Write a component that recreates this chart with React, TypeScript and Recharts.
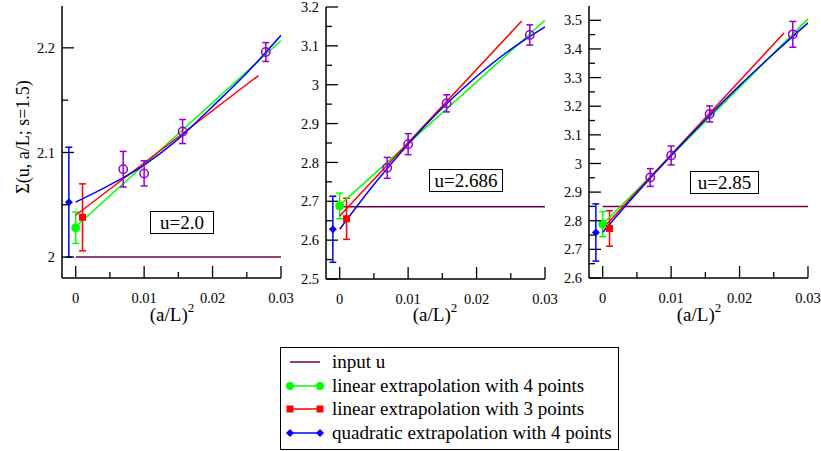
import React from 'react';
import { ComposedChart, Line, Scatter, XAxis, YAxis, ErrorBar } from 'recharts';

const FONT = 'Liberation Serif, Times New Roman, serif';

// ---------- shared data ----------
const latticeX = [0.006944, 0.01, 0.015625, 0.027778]; // (a/L)^2 for L/a = 12, 10, 8, 6
const extrapX = [-0.001, 0, 0.001]; // quadratic, linear-4, linear-3 (offset for visibility)
const inputLineX = [0, 0.03];
const quadCurveX = [0, 0.005, 0.01, 0.015, 0.02, 0.025, 0.03];
const lin4LineX = [0, 0.03];
const xDomain = [-0.002, 0.03];
const xMajorTicks = [0, 0.01, 0.02, 0.03];
const xMinorTicks = [0.005, 0.015, 0.025];

const legendLabels = [
  'input u',
  'linear extrapolation with 4 points',
  'linear extrapolation with 3 points',
  'quadratic extrapolation with 4 points',
];
const yAxisTitle = 'Σ(u, a/L; s=1.5)';

// ---------- panel 1: u = 2.0 ----------
const p1Label = 'u=2.0';
const p1Input = 2.0;
const p1Sigma = [2.084, 2.08, 2.12, 2.196];
const p1SigmaErr = [0.017, 0.012, 0.0115, 0.009];
const p1Extrap = [2.0525, 2.028, 2.038];
const p1ExtrapErr = [0.0525, 0.015, 0.032];
const p1Lin4Y = [2.029, 2.207];
const p1Lin3X = [0, 0.0267];
const p1Lin3Y = [2.04, 2.1735];
const p1QuadY = [2.0525, 2.069, 2.088, 2.113, 2.144, 2.176, 2.212];
const p1YDomain = [1.98, 2.24];
const p1YMajor = [2.0, 2.1, 2.2];
const p1YMinor = [2.05, 2.15];

// ---------- panel 2: u = 2.686 ----------
const p2Label = 'u=2.686';
const p2Input = 2.686;
const p2Sigma = [2.786, 2.847, 2.952, 3.128];
const p2SigmaErr = [0.027, 0.027, 0.022, 0.026];
const p2Extrap = [2.628, 2.688, 2.655];
const p2ExtrapErr = [0.085, 0.033, 0.053];
const p2Lin4Y = [2.69, 3.166];
const p2Lin3X = [0, 0.0266];
const p2Lin3Y = [2.662, 3.164];
const p2QuadY = [2.628, 2.743, 2.847, 2.94, 3.021, 3.091, 3.149];
const p2YDomain = [2.5, 3.2];
const p2YMajor = [2.5, 2.6, 2.7, 2.8, 2.9, 3.0, 3.1, 3.2];
const p2YMinor = [2.55, 2.65, 2.75, 2.85, 2.95, 3.05, 3.15];

// ---------- panel 3: u = 2.85 ----------
const p3Label = 'u=2.85';
const p3Input = 2.85;
const p3Sigma = [2.951, 3.028, 3.173, 3.451];
const p3SigmaErr = [0.031, 0.033, 0.028, 0.045];
const p3Extrap = [2.759, 2.788, 2.773];
const p3ExtrapErr = [0.1, 0.044, 0.062];
const p3Lin4Y = [2.788, 3.505];
const p3Lin3X = [0, 0.0265];
const p3Lin3Y = [2.773, 3.456];
const p3QuadY = [2.76, 2.897, 3.028, 3.153, 3.272, 3.384, 3.491];
const p3YDomain = [2.6, 3.55];
const p3YMajor = [2.6, 2.7, 2.8, 2.9, 3.0, 3.1, 3.2, 3.3, 3.4, 3.5];
const p3YMinor = [2.65, 2.75, 2.85, 2.95, 3.05, 3.15, 3.25, 3.35, 3.45];

// ---------- colours ----------
const C_INPUT = '#670748';
const C_PTS = '#9400d3';
const C_LIN4 = '#00ff00';
const C_LIN3 = '#ff0000';
const C_QUAD = '#0000ff';

const zip = (xs: number[], ys: number[], es?: number[]) =>
  xs.map((x, i) => ({ x, y: ys[i], e: es ? es[i] : 0 }));

const MAJOR_LEN = 12;
const MINOR_LEN = 6;
const TICK_FS = 14.5;
const isIn = (arr: number[], v: number) => arr.some((m) => Math.abs(m - v) < 1e-9);

const fmtX = (v: number) => String(parseFloat(v.toFixed(3)));
const fmtY = (v: number) => String(parseFloat(v.toFixed(2)));

const txtStyle = { fontFamily: FONT };

function makeXTick(side: 'bottom' | 'top', majors: number[]) {
  return (props: any) => {
    const { x, y, payload } = props;
    const v = payload.value;
    const major = isIn(majors, v);
    const len = major ? MAJOR_LEN : MINOR_LEN;
    const dir = side === 'bottom' ? -1 : 1;
    return (
      <g>
        <line x1={x} x2={x} y1={y} y2={y + dir * len} stroke="#000" strokeWidth={1.3} />
        {side === 'bottom' && major && (
          <text x={x} y={y + 25} textAnchor="middle" style={txtStyle} fontSize={TICK_FS} fill="#000">
            {fmtX(v)}
          </text>
        )}
      </g>
    );
  };
}

function makeYTick(side: 'left' | 'right', majors: number[]) {
  return (props: any) => {
    const { x, y, payload } = props;
    const v = payload.value;
    const major = isIn(majors, v);
    const len = major ? MAJOR_LEN : MINOR_LEN;
    const dir = side === 'left' ? 1 : -1;
    return (
      <g>
        <line x1={x} x2={x + dir * len} y1={y} y2={y} stroke="#000" strokeWidth={1.3} />
        {side === 'left' && major && (
          <text x={x - 7} y={y} dy="0.35em" textAnchor="end" style={txtStyle} fontSize={TICK_FS} fill="#000">
            {fmtY(v)}
          </text>
        )}
      </g>
    );
  };
}

const OpenCircle = (p: any) =>
  p.cx == null ? <g /> : <circle cx={p.cx} cy={p.cy} r={4.2} fill="none" stroke={C_PTS} strokeWidth={1.5} />;
const GreenDot = (p: any) =>
  p.cx == null ? <g /> : <circle cx={p.cx} cy={p.cy} r={4} fill={C_LIN4} stroke={C_LIN4} />;
const RedSquare = (p: any) =>
  p.cx == null ? <g /> : <rect x={p.cx - 3.5} y={p.cy - 3.5} width={7} height={7} fill={C_LIN3} />;
const BlueDiamond = (p: any) =>
  p.cx == null ? (
    <g />
  ) : (
    <path d={`M${p.cx},${p.cy - 4}L${p.cx + 4},${p.cy}L${p.cx},${p.cy + 4}L${p.cx - 4},${p.cy}Z`} fill={C_QUAD} />
  );

type PanelProps = {
  left: number;
  width: number;
  marginTop: number;
  marginRight: number;
  yAxisWidth: number;
  xAxisHeight: number;
  input: number;
  sigma: number[];
  sigmaErr: number[];
  extrap: number[];
  extrapErr: number[];
  lin4Y: number[];
  lin3X: number[];
  lin3Y: number[];
  quadY: number[];
  yDomain: number[];
  yMajor: number[];
  yMinor: number[];
};

function Panel(p: PanelProps) {
  const xTicks = [...xMajorTicks, ...xMinorTicks].sort((a, b) => a - b);
  const yTicks = [...p.yMajor, ...p.yMinor].sort((a, b) => a - b);
  const inputData = zip(inputLineX, [p.input, p.input]);
  const lin4Data = zip(lin4LineX, p.lin4Y);
  const lin3Data = zip(p.lin3X, p.lin3Y);
  const quadData = zip(quadCurveX, p.quadY);
  const ptsData = zip(latticeX, p.sigma, p.sigmaErr);
  const quadPt = [{ x: extrapX[0], y: p.extrap[0], e: p.extrapErr[0] }];
  const lin4Pt = [{ x: extrapX[1], y: p.extrap[1], e: p.extrapErr[1] }];
  const lin3Pt = [{ x: extrapX[2], y: p.extrap[2], e: p.extrapErr[2] }];
  const axisLine = { stroke: '#000', strokeWidth: 1.5 };
  return (
    <div style={{ position: 'absolute', left: p.left, top: 0 }}>
      <ComposedChart
        width={p.width}
        height={330}
        margin={{ top: p.marginTop, right: p.marginRight, bottom: 0, left: 0 }}
      >
        <XAxis
          xAxisId="b"
          type="number"
          dataKey="x"
          domain={xDomain}
          allowDataOverflow
          ticks={xTicks}
          interval={0}
          tickSize={0}
          tickMargin={0}
          tickLine={false}
          axisLine={axisLine}
          height={p.xAxisHeight}
          tick={makeXTick('bottom', xMajorTicks)}
        />
        <XAxis
          xAxisId="t"
          orientation="top"
          type="number"
          dataKey="x"
          domain={xDomain}
          allowDataOverflow
          ticks={xTicks}
          interval={0}
          tickSize={0}
          tickMargin={0}
          tickLine={false}
          axisLine={axisLine}
          height={0}
          tick={makeXTick('top', xMajorTicks)}
        />
        <YAxis
          yAxisId="l"
          type="number"
          dataKey="y"
          domain={p.yDomain}
          allowDataOverflow
          ticks={yTicks}
          interval={0}
          tickSize={0}
          tickMargin={0}
          tickLine={false}
          axisLine={axisLine}
          width={p.yAxisWidth}
          tick={makeYTick('left', p.yMajor)}
        />
        <YAxis
          yAxisId="r"
          orientation="right"
          type="number"
          dataKey="y"
          domain={p.yDomain}
          allowDataOverflow
          ticks={yTicks}
          interval={0}
          tickSize={0}
          tickMargin={0}
          tickLine={false}
          axisLine={axisLine}
          width={0}
          tick={makeYTick('right', p.yMajor)}
        />
        <Line xAxisId="b" yAxisId="l" data={inputData} dataKey="y" stroke={C_INPUT} strokeWidth={1.5} dot={false} activeDot={false} isAnimationActive={false} />
        <Scatter xAxisId="b" yAxisId="l" data={quadPt} dataKey="y" shape={BlueDiamond} isAnimationActive={false}>
          <ErrorBar dataKey="e" direction="y" width={3.5} stroke={C_QUAD} strokeWidth={1.5} />
        </Scatter>
        <Scatter xAxisId="b" yAxisId="l" data={lin4Pt} dataKey="y" shape={GreenDot} isAnimationActive={false}>
          <ErrorBar dataKey="e" direction="y" width={3.5} stroke={C_LIN4} strokeWidth={1.5} />
        </Scatter>
        <Scatter xAxisId="b" yAxisId="l" data={lin3Pt} dataKey="y" shape={RedSquare} isAnimationActive={false}>
          <ErrorBar dataKey="e" direction="y" width={3.5} stroke={C_LIN3} strokeWidth={1.5} />
        </Scatter>
        <Line xAxisId="b" yAxisId="l" data={lin4Data} dataKey="y" stroke={C_LIN4} strokeWidth={1.5} dot={false} activeDot={false} isAnimationActive={false} />
        <Line xAxisId="b" yAxisId="l" data={lin3Data} dataKey="y" stroke={C_LIN3} strokeWidth={1.5} dot={false} activeDot={false} isAnimationActive={false} />
        <Line xAxisId="b" yAxisId="l" data={quadData} dataKey="y" type="monotone" stroke={C_QUAD} strokeWidth={1.5} dot={false} activeDot={false} isAnimationActive={false} />
        <Scatter xAxisId="b" yAxisId="l" data={ptsData} dataKey="y" shape={OpenCircle} isAnimationActive={false}>
          <ErrorBar dataKey="e" direction="y" width={3.5} stroke={C_PTS} strokeWidth={1.5} />
        </Scatter>
      </ComposedChart>
    </div>
  );
}

function XTitle({ cx }: { cx: number }) {
  return (
    <text x={cx} y={321} textAnchor="middle" style={txtStyle} fontSize={19} fill="#000">
      (a/L)
      <tspan dy={-9} fontSize={13}>
        2
      </tspan>
    </text>
  );
}

function BoxLabel({ x, y, w, h, text }: { x: number; y: number; w: number; h: number; text: string }) {
  return (
    <g>
      <rect x={x} y={y} width={w} height={h} fill="#fff" stroke="#000" strokeWidth={1} />
      <text x={x + w / 2} y={y + h / 2} dy="0.35em" textAnchor="middle" style={txtStyle} fontSize={19} fill="#000">
        {text}
      </text>
    </g>
  );
}

function Legend() {
  const rows = [362, 386, 409, 433];
  const x1 = 290;
  const x2 = 320;
  return (
    <g>
      <rect x={280.5} y={347.5} width={338} height={102} fill="#fff" stroke="#000" strokeWidth={1} />
      <line x1={x1} x2={x2} y1={rows[0]} y2={rows[0]} stroke={C_INPUT} strokeWidth={1.5} />
      <line x1={x1} x2={x2} y1={rows[1]} y2={rows[1]} stroke={C_LIN4} strokeWidth={1.5} />
      <circle cx={x1} cy={rows[1]} r={4} fill={C_LIN4} />
      <circle cx={x2} cy={rows[1]} r={4} fill={C_LIN4} />
      <line x1={x1} x2={x2} y1={rows[2]} y2={rows[2]} stroke={C_LIN3} strokeWidth={1.5} />
      <rect x={x1 - 3.5} y={rows[2] - 3.5} width={7} height={7} fill={C_LIN3} />
      <rect x={x2 - 3.5} y={rows[2] - 3.5} width={7} height={7} fill={C_LIN3} />
      <line x1={x1} x2={x2} y1={rows[3]} y2={rows[3]} stroke={C_QUAD} strokeWidth={1.5} />
      <path d={`M${x1},${rows[3] - 4}L${x1 + 4},${rows[3]}L${x1},${rows[3] + 4}L${x1 - 4},${rows[3]}Z`} fill={C_QUAD} />
      <path d={`M${x2},${rows[3] - 4}L${x2 + 4},${rows[3]}L${x2},${rows[3] + 4}L${x2 - 4},${rows[3]}Z`} fill={C_QUAD} />
      {legendLabels.map((t, i) => (
        <text key={t} x={332} y={rows[i]} dy="0.33em" style={txtStyle} fontSize={19} fill="#000">
          {t}
        </text>
      ))}
    </g>
  );
}

export default function App() {
  return (
    <div style={{ position: 'absolute', left: 0, top: 0, width: 821, height: 451, background: '#fff', overflow: 'hidden', fontFamily: FONT }}>
      <Panel
        left={0}
        width={301}
        marginTop={6}
        marginRight={20}
        yAxisWidth={62}
        xAxisHeight={52}
        input={p1Input}
        sigma={p1Sigma}
        sigmaErr={p1SigmaErr}
        extrap={p1Extrap}
        extrapErr={p1ExtrapErr}
        lin4Y={p1Lin4Y}
        lin3X={p1Lin3X}
        lin3Y={p1Lin3Y}
        quadY={p1QuadY}
        yDomain={p1YDomain}
        yMajor={p1YMajor}
        yMinor={p1YMinor}
      />
      <Panel
        left={279}
        width={286}
        marginTop={7}
        marginRight={20}
        yAxisWidth={47}
        xAxisHeight={51}
        input={p2Input}
        sigma={p2Sigma}
        sigmaErr={p2SigmaErr}
        extrap={p2Extrap}
        extrapErr={p2ExtrapErr}
        lin4Y={p2Lin4Y}
        lin3X={p2Lin3X}
        lin3Y={p2Lin3Y}
        quadY={p2QuadY}
        yDomain={p2YDomain}
        yMajor={p2YMajor}
        yMinor={p2YMinor}
      />
      <Panel
        left={543}
        width={278}
        marginTop={6}
        marginRight={13}
        yAxisWidth={46}
        xAxisHeight={52}
        input={p3Input}
        sigma={p3Sigma}
        sigmaErr={p3SigmaErr}
        extrap={p3Extrap}
        extrapErr={p3ExtrapErr}
        lin4Y={p3Lin4Y}
        lin3X={p3Lin3X}
        lin3Y={p3Lin3Y}
        quadY={p3QuadY}
        yDomain={p3YDomain}
        yMajor={p3YMajor}
        yMinor={p3YMinor}
      />
      <svg width={821} height={451} style={{ position: 'absolute', left: 0, top: 0, pointerEvents: 'none' }}>
        <text transform="translate(29,137) rotate(-90)" textAnchor="middle" style={txtStyle} fontSize={18} fill="#000">
          {yAxisTitle}
        </text>
        <XTitle cx={172} />
        <XTitle cx={435} />
        <XTitle cx={699} />
        <BoxLabel x={150.5} y={211.5} w={63} h={22} text={p1Label} />
        <BoxLabel x={429.5} y={169.5} w={73} h={22} text={p2Label} />
        <BoxLabel x={690.5} y={171.5} w={68} h={22} text={p3Label} />
        <Legend />
      </svg>
    </div>
  );
}
